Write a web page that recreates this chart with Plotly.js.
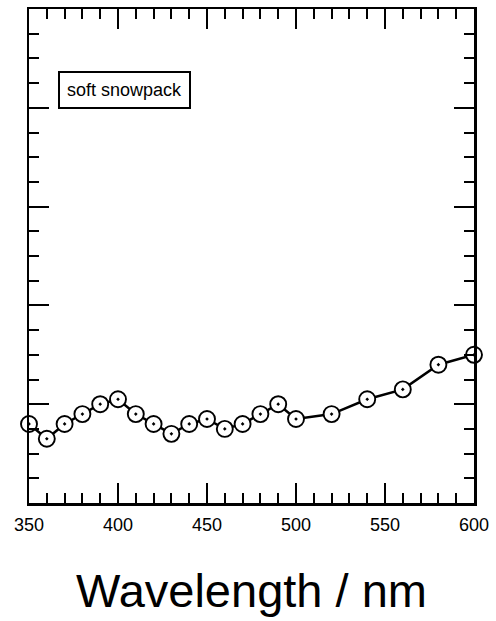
<!DOCTYPE html>
<html>
<head>
<meta charset="utf-8">
<script src="https://cdn.plot.ly/plotly-3.0.1.min.js"></script>
<style>
  html, body { margin: 0; padding: 0; background: #fff; }
  #chart { width: 496px; height: 621px; }
</style>
</head>
<body>
<div id="chart"></div>
<script>
// Wavelength samples (nm) and the measured response of the soft snowpack
const wavelength = [350, 360, 370, 380, 390, 400, 410, 420, 430, 440, 450,
                    460, 470, 480, 490, 500, 520, 540, 560, 580, 600];
const response = [0.80, 0.65, 0.80, 0.90, 1.00, 1.05, 0.90, 0.80, 0.70, 0.80, 0.85,
                  0.75, 0.80, 0.90, 1.00, 0.85, 0.90, 1.05, 1.15, 1.40, 1.50];
const sampleLabel = 'soft snowpack';
const xTitle = 'Wavelength / nm';

const FONT = 'Liberation Sans, Arial, Helvetica, sans-serif';

const trace = {
  x: wavelength,
  y: response,
  type: 'scatter',
  mode: 'lines+markers',
  line: { color: '#000', width: 2.5 },
  marker: {
    symbol: 'circle-dot',
    size: 16,
    color: '#fff',
    line: { color: '#000', width: 1.9 }
  },
  cliponaxis: false,
  hoverinfo: 'skip'
};

const frameAxis = {
  showline: true,
  linecolor: '#000',
  linewidth: 2.5,
  mirror: 'allticks',
  ticks: 'inside',
  ticklen: 20,
  tickwidth: 2,
  tickcolor: '#000',
  showgrid: false,
  zeroline: false,
  fixedrange: true
};

const layout = {
  width: 496,
  height: 621,
  margin: { l: 29, r: 22, t: 9, b: 118 },
  paper_bgcolor: '#fff',
  plot_bgcolor: '#fff',
  showlegend: false,
  font: { family: FONT, color: '#000' },
  xaxis: Object.assign({}, frameAxis, {
    range: [350, 600],
    tickmode: 'linear',
    tick0: 350,
    dtick: 50,
    ticklabelstandoff: 4,
    tickfont: { size: 18, family: FONT, color: '#000' },
    minor: { dtick: 10, ticks: 'inside', ticklen: 10, tickwidth: 2, tickcolor: '#000' },
    title: { text: xTitle, font: { size: 47, family: FONT, color: '#000' }, standoff: 40 }
  }),
  yaxis: Object.assign({}, frameAxis, {
    range: [0, 5],
    tickmode: 'linear',
    tick0: 0,
    dtick: 1,
    showticklabels: false,
    minor: { dtick: 0.25, ticks: 'inside', ticklen: 10, tickwidth: 2, tickcolor: '#000' }
  }),
  annotations: [{
    xref: 'paper', yref: 'paper',
    x: (124.5 - 29) / 445, y: (503 - 89.5) / 494,
    xanchor: 'center', yanchor: 'middle',
    text: sampleLabel,
    showarrow: false,
    font: { size: 18, family: FONT, color: '#000' },
    bordercolor: '#000',
    borderwidth: 2,
    borderpad: 7,
    bgcolor: '#fff'
  }]
};

Plotly.newPlot('chart', [trace], layout, { staticPlot: true, displayModeBar: false });
</script>
</body>
</html>
